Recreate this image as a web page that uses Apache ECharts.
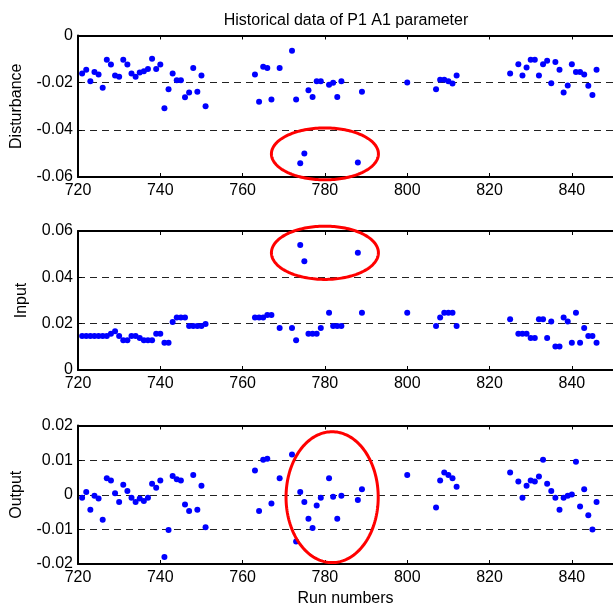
<!DOCTYPE html>
<html>
<head>
<meta charset="utf-8">
<script src="https://cdn.jsdelivr.net/npm/echarts@6/dist/echarts.min.js"></script>
<style>html,body{margin:0;padding:0;background:#fff}#c{width:613px;height:608px}</style>
</head>
<body>
<div id="c"></div>
<script>
// ---- data ----
const runs = [721,722,723,724,725,726,727,728,729,730,731,732,733,734,735,736,737,738,739,740,741,742,743,744,745,746,747,748,749,750,751,
  763,764,765,766,767,769,772,773,774,775,776,777,778,779,781,782,783,784,788,789,
  800,807,808,809,810,811,812,
  825,827,828,829,830,831,832,833,834,835,836,837,838,839,840,841,842,843,844,845,846];

const disturbance = [-0.0161,-0.0145,-0.0194,-0.0155,-0.0165,-0.0222,-0.0103,-0.0123,-0.0170,-0.0175,-0.0103,-0.0123,-0.0161,-0.0175,-0.0157,-0.0152,-0.0142,-0.0099,-0.0142,-0.0123,-0.0309,-0.0228,-0.0161,-0.0190,-0.0190,-0.0262,-0.0242,-0.0138,-0.0238,-0.0170,-0.0300,
  -0.0165,-0.0281,-0.0132,-0.0138,-0.0271,-0.0138,-0.0065,-0.0271,-0.0542,-0.0500,-0.0232,-0.0261,-0.0194,-0.0194,-0.0209,-0.0200,-0.0261,-0.0194,-0.0538,-0.0238,
  -0.0199,-0.0228,-0.0188,-0.0188,-0.0194,-0.0204,-0.0170,
  -0.0161,-0.0122,-0.0170,-0.0136,-0.0103,-0.0103,-0.0170,-0.0122,-0.0107,-0.0203,-0.0112,-0.0145,-0.0242,-0.0212,-0.0122,-0.0155,-0.0155,-0.0165,-0.0213,-0.0252,-0.0145];

const input = [0.0147,0.0147,0.0147,0.0147,0.0147,0.0147,0.0147,0.0157,0.0167,0.0147,0.0128,0.0128,0.0147,0.0147,0.0138,0.0128,0.0128,0.0128,0.0157,0.0157,0.0118,0.0118,0.0207,0.0227,0.0227,0.0227,0.0190,0.0190,0.0190,0.0190,0.0199,
  0.0227,0.0227,0.0227,0.0237,0.0237,0.0181,0.0181,0.0128,0.0540,0.0469,0.0157,0.0157,0.0157,0.0181,0.0247,0.0190,0.0190,0.0190,0.0506,0.0247,
  0.0247,0.0190,0.0227,0.0247,0.0247,0.0247,0.0190,
  0.0219,0.0157,0.0157,0.0157,0.0138,0.0138,0.0219,0.0219,0.0138,0.0209,0.0101,0.0101,0.0227,0.0209,0.0118,0.0247,0.0118,0.0181,0.0147,0.0147,0.0118];

const output = [-0.0009,0.0008,-0.0043,-0.0003,-0.0011,-0.0072,0.0048,0.0041,0.0004,-0.0021,0.0029,0.0011,-0.0009,-0.0021,-0.0011,-0.0018,-0.0009,0.0032,0.0020,0.0041,-0.0180,-0.0102,0.0054,0.0045,0.0041,-0.0028,-0.0047,0.0057,-0.0043,0.0026,-0.0094,
  0.0070,-0.0047,0.0101,0.0104,-0.0025,0.0048,0.0116,-0.0135,0.0008,-0.0021,-0.0069,-0.0096,-0.0031,-0.0009,0.0048,-0.0006,-0.0069,-0.0003,-0.0015,0.0016,
  0.0057,-0.0037,0.0041,0.0064,0.0057,0.0048,0.0023,
  0.0064,0.0038,-0.0009,0.0026,0.0041,0.0038,0.0053,0.0101,0.0032,0.0011,-0.0009,-0.0043,-0.0009,-0.0003,0.0001,0.0095,-0.0034,0.0016,-0.0059,-0.0100,-0.0021];

// ellipse annotations: [centerRun, centerValue, radiusRun, radiusValue]
const ellipseDisturbance = [780.0, -0.0502, 13.0, 0.0110];
const ellipseInput = [780.0, 0.0506, 13.0, 0.0115];
const ellipseOutput = [781.75, -0.0007, 11.2, 0.0189];

const panelNames = ['Disturbance', 'Input', 'Output'];
const yRanges = [[-0.06, 0, 0.02], [0, 0.06, 0.02], [-0.02, 0.02, 0.01]];
const xTicks = [720, 850, 20];
const titleText = 'Historical data of P1 A1 parameter';
const xName = 'Run numbers';

// ---- chart ----
const FONT = '"Liberation Sans", Arial, sans-serif';
const grids = [
  {left: 78, right: -6, top: 35.5, height: 141.5},
  {left: 78, right: -6, top: 231, height: 139},
  {left: 78, right: -6, top: 425.5, height: 140}
];
const nameGaps = [53, 48, 53];
const xAxes = [], yAxes = [], series = [];
const seriesData = [disturbance, input, output];
const ellipses = [ellipseDisturbance, ellipseInput, ellipseOutput];

grids.forEach((g, i) => {
  const base = {
    type: 'value', gridIndex: i, min: xTicks[0], max: xTicks[1], interval: xTicks[2],
    axisLine: {onZero: false, lineStyle: {color: '#000', width: 2}},
    axisTick: {inside: true, length: 4, lineStyle: {color: '#000', width: 1}},
    splitLine: {show: false}
  };
  xAxes.push(Object.assign({}, base, {
    position: 'bottom',
    axisLabel: {fontSize: 16, color: '#000', fontFamily: FONT, margin: 6, showMaxLabel: false},
    name: i === 2 ? xName : '', nameLocation: 'middle', nameGap: 27,
    nameTextStyle: {fontSize: 16, color: '#000', fontFamily: FONT}
  }));
  xAxes.push(Object.assign({}, base, {
    position: 'top', axisLabel: {show: false}
  }));
  yAxes.push({
    type: 'value', gridIndex: i, min: yRanges[i][0], max: yRanges[i][1], interval: yRanges[i][2],
    axisLine: {show: true, onZero: false, lineStyle: {color: '#000', width: 2}},
    axisTick: {inside: true, length: 4, lineStyle: {color: '#000'}},
    axisLabel: {fontSize: 16, color: '#000', fontFamily: FONT, margin: 5},
    splitLine: {show: true, lineStyle: {color: '#222', type: [7, 5], width: 1}},
    name: panelNames[i], nameLocation: 'middle', nameGap: nameGaps[i],
    nameTextStyle: {fontSize: 16, color: '#000', fontFamily: FONT}
  });
  series.push({
    type: 'scatter', xAxisIndex: i * 2, yAxisIndex: i,
    symbol: 'circle', symbolSize: 6,
    itemStyle: {color: '#0000ff', opacity: 1},
    data: runs.map((r, k) => [r, seriesData[i][k]]),
    z: 3
  });
  series.push({
    type: 'custom', xAxisIndex: i * 2, yAxisIndex: i, clip: false, silent: true, z: 4,
    data: [ellipses[i]],
    encode: {x: 0, y: 1},
    renderItem: function (params, api) {
      const c = api.coord([api.value(0), api.value(1)]);
      const s = api.size([api.value(2), api.value(3)]);
      const pts = [];
      for (let t = 0; t < 180; t++) {
        const a = t / 180 * Math.PI * 2;
        pts.push([c[0] + s[0] * Math.cos(a), c[1] + s[1] * Math.sin(a)]);
      }
      return {
        type: 'polygon',
        shape: {points: pts},
        style: {fill: 'none', stroke: '#ff0000', lineWidth: 3}
      };
    }
  });
});

const chart = echarts.init(document.getElementById('c'), null, {renderer: 'canvas'});
chart.setOption({
  animation: false,
  backgroundColor: '#fff',
  title: {
    text: titleText, left: 341, top: 8, textAlign: 'center',
    textStyle: {fontSize: 16, fontWeight: 'normal', color: '#000', fontFamily: FONT}
  },
  grid: grids,
  xAxis: xAxes,
  yAxis: yAxes,
  series: series
});
</script>
</body>
</html>
